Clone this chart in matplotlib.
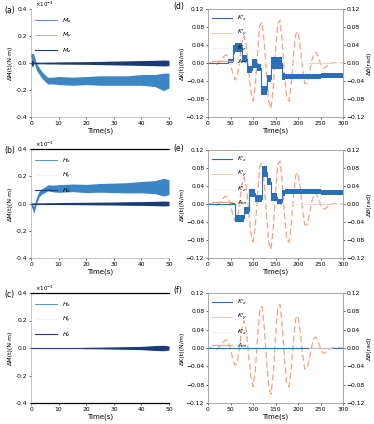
import numpy as np
import matplotlib
matplotlib.use("Agg")
import matplotlib.pyplot as plt

plt.rcParams['font.family'] = ['DejaVu Sans']
plt.rcParams['font.size'] = 4.5

# ---- left panels (a)-(c): time in s, values x1e-3 ----
t_l = [0, 0.5, 1, 2, 3, 4, 5, 6, 8, 10, 15, 20, 25, 30, 35, 40, 45, 48, 50]

mx_a = [0.05, 0.05, 0.04, -0.03, -0.06, -0.09, -0.11, -0.13, -0.13, -0.13,
        -0.135, -0.13, -0.13, -0.13, -0.13, -0.125, -0.13, -0.14, -0.13]
mx_a_amp = [0.015, 0.025, 0.025, 0.025, 0.025, 0.025, 0.025, 0.025, 0.025, 0.03,
            0.03, 0.03, 0.035, 0.035, 0.035, 0.04, 0.045, 0.065, 0.055]
mz_a_amp = [0.01, 0.03, 0.006, 0.006, 0.006, 0.006, 0.006, 0.007, 0.007, 0.008,
            0.009, 0.01, 0.012, 0.014, 0.016, 0.018, 0.02, 0.022, 0.02]

mx_b = [0.0, -0.02, -0.05, 0.02, 0.07, 0.09, 0.10, 0.115, 0.11, 0.11,
        0.115, 0.11, 0.115, 0.115, 0.115, 0.12, 0.12, 0.12, 0.12]
mx_b_amp = [0.012, 0.018, 0.025, 0.02, 0.02, 0.02, 0.02, 0.022, 0.025, 0.028,
            0.028, 0.03, 0.032, 0.035, 0.038, 0.042, 0.048, 0.065, 0.055]
mz_b_amp = [0.004, 0.004, 0.004, 0.004, 0.005, 0.005, 0.005, 0.006, 0.006, 0.007,
            0.008, 0.009, 0.01, 0.011, 0.013, 0.014, 0.016, 0.018, 0.016]

mz_c_amp = [0.001, 0.001, 0.001, 0.001, 0.001, 0.001, 0.001, 0.001, 0.001, 0.001,
            0.002, 0.005, 0.006, 0.008, 0.01, 0.012, 0.018, 0.02, 0.015]

# ---- right panels (d)-(f): time in s ----
t_a = list(range(0, 305, 5))
a_m = [0, 0, 0, -0.005, -0.003, 0.002, 0.0085, 0.0144, 0.0177, 0.0149,
       -0.0017, -0.0234, -0.0376, -0.0324, 0.0019, 0.0423, 0.06, 0.0389, -0.012, -0.0629,
       -0.084, -0.052, 0.021, 0.083, 0.0906, 0.0458, -0.0255, -0.085, -0.1006, -0.0561,
       0.0238, 0.0878, 0.0954, 0.0484, -0.0237, -0.0787, -0.085, -0.0448, 0.017, 0.0642,
       0.0697, 0.0365, -0.0125, -0.0457, -0.0453, -0.0255, 0.0015, 0.0213, 0.024, 0.0139,
       -0.0009, -0.011, -0.0105, -0.0065, -0.0025, 0, 0, 0, 0, 0, 0]

tk_d = [0, 45, 55, 60, 75, 86, 97, 108, 118, 130, 141, 164, 171, 200, 250, 300]
kx_d = [0, 0.005, 0.03, 0.035, 0.01, -0.015, 0.0, -0.01, -0.06, -0.035,
        0.0, -0.03, -0.03, -0.03, -0.028, -0.025]
kx_d_amp = [0, 0.005, 0.01, 0.01, 0.008, 0.008, 0.01, 0.007, 0.01, 0.008,
            0.014, 0.007, 0.005, 0.005, 0.005, 0.004]

tk_e = [0, 50, 60, 79, 90, 105, 119, 130, 141, 153, 164, 171, 200, 250, 300]
kx_e = [0, 0, -0.032, -0.015, 0.025, 0.012, 0.072, 0.05, 0.015, 0.005,
        0.025, 0.028, 0.028, 0.026, 0.025]
kx_e_amp = [0, 0.003, 0.008, 0.008, 0.009, 0.007, 0.012, 0.008, 0.009, 0.007,
            0.007, 0.006, 0.006, 0.005, 0.004]

tk_f = [0, 300]
kx_f = [0, 0]

c_mx = '#3c86c6'
c_my = '#c9a487'
c_mz = '#1b3a78'
c_kx = '#2a70b8'
c_ky = '#e6ceb4'
c_kz = '#f2f2e4'
c_am = '#f5a27f'

W, H = 374, 424
fig = plt.figure(figsize=(W / 100, H / 100), dpi=100)


def box(x0, top, x1, bottom):
    return [x0 / W, 1 - bottom / H, (x1 - x0) / W, (bottom - top) / H]


def style(ax):
    ax.tick_params(length=1.5, width=0.4, pad=1.2, labelsize=4.3)
    for s in ax.spines.values():
        s.set_linewidth(0.4)
        s.set_color('#999999')


def left_panel(pos, label, mx, mx_amp, mz_amp, legend_names, my_col, top_line, bot_line):
    ax = fig.add_axes(box(*pos))
    t = np.array(t_l)
    mx = np.array(mx)
    ax.fill_between(t, mx - mx_amp, mx + np.array(mx_amp), color=c_mx, lw=0)
    ax.plot(t, mx, color=c_mx, lw=0.6, label=legend_names[0])
    ax.plot([0, 50], [0, 0], color=my_col, lw=0.6, label=legend_names[1])
    z = np.zeros(len(t))
    ax.fill_between(t, z - mz_amp, z + np.array(mz_amp), color=c_mz, lw=0)
    ax.plot(t, z, color=c_mz, lw=0.8, label=legend_names[2])
    ax.set_xlim(0, 50)
    ax.set_ylim(-0.4, 0.4)
    ax.set_xticks([0, 10, 20, 30, 40, 50])
    ax.set_yticks([-0.4, -0.2, 0.0, 0.2, 0.4])
    ax.set_yticklabels(['-0.4', '-0.2', '0.0', '0.2', '0.4'])
    style(ax)
    ax.spines['right'].set_visible(False)
    ax.spines['top'].set_visible(top_line)
    ax.spines['top'].set_color('black')
    ax.spines['top'].set_linewidth(0.9)
    if bot_line:
        ax.spines['bottom'].set_color('black')
        ax.spines['bottom'].set_linewidth(0.9)
    ax.set_xlabel('Time(s)', fontsize=5, labelpad=1)
    ax.set_ylabel('ΔM(t)(N·m)', fontsize=4.5, labelpad=2)
    ax.text(0.03, 1.0, '×10$^{-3}$', transform=ax.transAxes, fontsize=4, va='bottom')
    ax.legend(loc='upper left', bbox_to_anchor=(0.0, 0.97), frameon=False,
              fontsize=4.5, handlelength=3.5, labelspacing=0.9, borderaxespad=0.2)
    fig.text(4 / W, 1 - (pos[1] + 1) / H, label, fontsize=5.5, va='center')
    return ax


def right_panel(pos, label, tk, kx, kx_amp):
    ax = fig.add_axes(box(*pos))
    ax.plot(tk_f, kx_f, color=c_kz, lw=0.6)
    if kx_amp is not None:
        kx = np.array(kx)
        ax.fill_between(tk, kx - kx_amp, kx + np.array(kx_amp), step='post', color=c_kx, lw=0)
        ax.step(tk, kx, where='post', color=c_kx, lw=0.8, label="$K'_x$")
    else:
        ax.plot(tk, kx, color=c_kx, lw=0.8, label="$K'_x$")
    ax.plot([], [], color=c_ky, lw=0.8, label="$K'_y$")
    ax.plot([], [], color=c_kz, lw=0.8, label="$K'_z$")
    ax.plot([225, 275], [0, 0], color=c_ky, lw=0.6)
    ax2 = ax.twinx()
    ax2.plot(t_a, a_m, color=c_am, lw=0.9, ls=(0, (5, 2.5)))
    ax.plot([], [], color=c_am, lw=0.9, label='$A_m$')
    for a in (ax, ax2):
        a.set_ylim(-0.12, 0.12)
        a.set_yticks([-0.12, -0.08, -0.04, 0.0, 0.04, 0.08, 0.12])
        style(a)
    ax.set_xlim(0, 300)
    ax.set_xticks([0, 50, 100, 150, 200, 250, 300])
    ax.set_xlabel('Time(s)', fontsize=5, labelpad=1)
    ax.set_ylabel('ΔK(t)(N/m)', fontsize=4.5, labelpad=1)
    ax2.set_ylabel('Δθ(rad)', fontsize=4.5, labelpad=1)
    ax.legend(loc='upper left', frameon=False, fontsize=4.5, handlelength=3.2,
              labelspacing=0.7, borderaxespad=0.3)
    ax.set_zorder(ax2.get_zorder() + 1)
    ax.patch.set_visible(False)
    fig.text(173 / W, 1 - (pos[1] - 2) / H, label, fontsize=5.5, va='center')
    return ax


left_panel((31, 9, 169, 117), '(a)', mx_a, mx_a_amp, mz_a_amp,
           ['$M_x$', '$M_y$', '$M_z$'], c_my, False, False)
left_panel((31, 149, 169, 258), '(b)', mx_b, mx_b_amp, mz_b_amp,
           ['$H_x$', '$H_y$', '$H_z$'], '#f4f4ee', True, False)
left_panel((31, 293, 169, 403), '(c)', [0] * len(t_l), [0.0] * len(t_l), mz_c_amp,
           ['$H_x$', '$H_y$', '$H_z$'], '#f4f4ee', True, True)

right_panel((208, 9, 343, 117), '(d)', tk_d, kx_d, kx_d_amp)
right_panel((208, 150, 343, 258), '(e)', tk_e, kx_e, kx_e_amp)
right_panel((208, 293, 343, 403), '(f)', tk_f, kx_f, None)

fig.savefig('out.png', dpi=100)
